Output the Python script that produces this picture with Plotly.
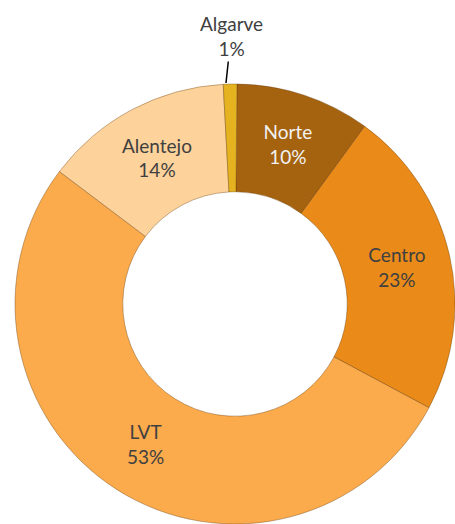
import plotly.graph_objects as go

regions = ["Norte", "Centro", "LVT", "Alentejo", "Algarve"]
shares = [10, 23, 53, 14, 1]
colors = ["#A5620F", "#E98A19", "#FBAA4C", "#FDD29B", "#E6B320"]
text_colors = ["#F2F2F2", "#404040", "#404040", "#404040", "#404040"]
positions = ["inside", "inside", "inside", "inside", "none"]

W, H = 455, 524
cx, cy, r = 235, 304, 220

fig = go.Figure(go.Pie(
    labels=regions,
    values=shares,
    hole=0.51,
    sort=False,
    direction="clockwise",
    rotation=0.5,
    marker=dict(colors=colors, line=dict(color="rgba(90,50,0,0.35)", width=1)),
    texttemplate="%{label}<br>%{value}%",
    textposition=positions,
    insidetextorientation="horizontal",
    textfont=dict(family="Lato", size=19, color=text_colors),
    showlegend=False,
    hoverinfo="none",
    domain=dict(x=[(cx - r) / W, min(1, (cx + r) / W)],
                y=[max(0, (H - cy - r) / H), min(1, (H - cy + r) / H)]),
))

fig.add_annotation(
    x=226 / W, y=1 - 83 / H, xref="paper", yref="paper",
    text=f"{regions[4]}<br>{shares[4]}%",
    showarrow=True, arrowhead=0, arrowwidth=1.5, arrowcolor="#000000",
    ax=5, ay=-47, standoff=0,
    font=dict(family="Lato", size=19, color="#404040"),
)

fig.update_layout(
    width=W, height=H,
    margin=dict(l=0, r=0, t=0, b=0),
    paper_bgcolor="white", plot_bgcolor="white",
    uniformtext=dict(minsize=19, mode="show"),
)

fig.write_html(
    "out.html",
    config={"displayModeBar": False},
    post_script="document.body.style.margin='0';document.body.style.overflow='hidden';",
)
